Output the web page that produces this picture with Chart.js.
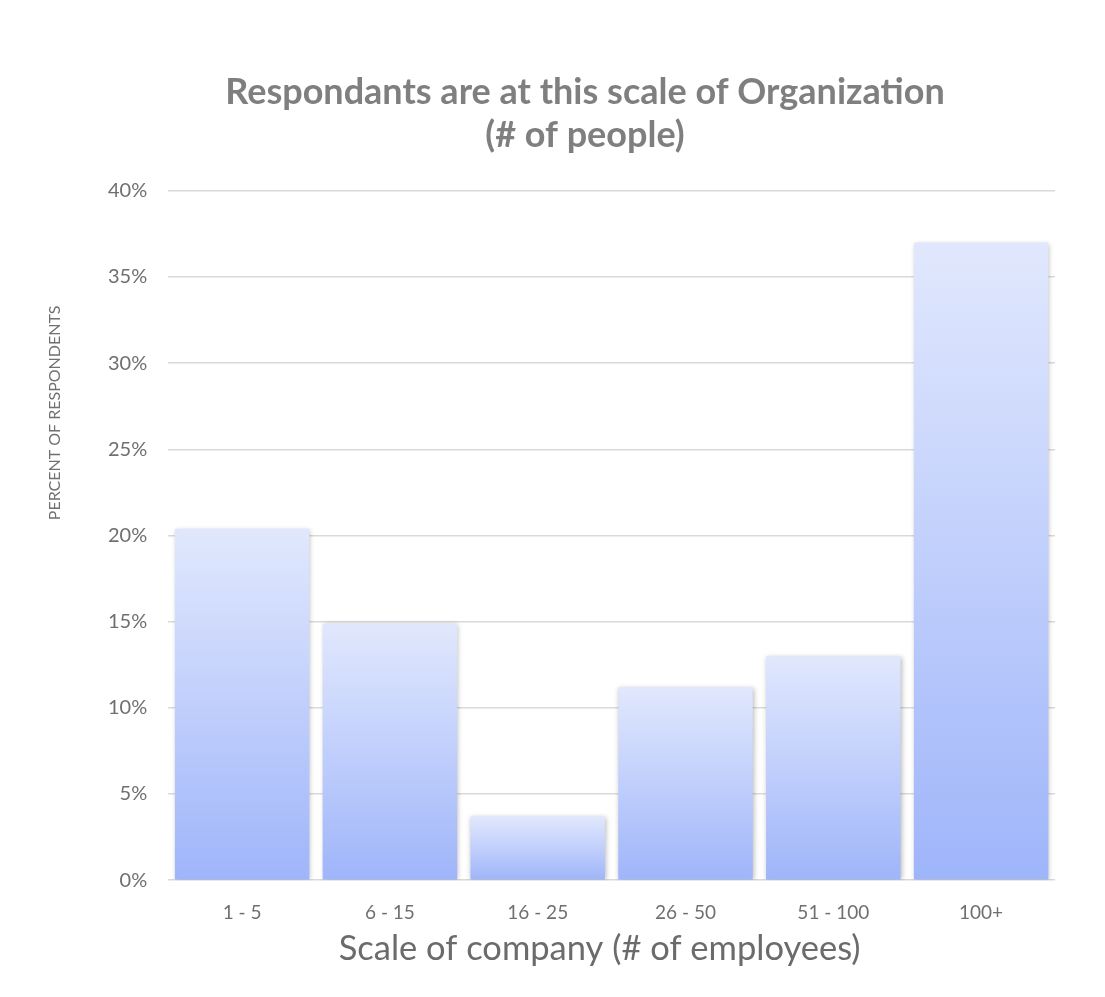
<!DOCTYPE html>
<html>
<head>
<meta charset="utf-8">
<script src="https://cdn.jsdelivr.net/npm/chart.js@4"></script>
<style>
html,body{margin:0;padding:0;background:#fff;}
</style>
</head>
<body>
<canvas id="chart" width="1105" height="997"></canvas>
<script>
// company size buckets and share of respondents (%)
const sizes = ["1 - 5","6 - 15","16 - 25","26 - 50","51 - 100","100+"];
const shares = [20.4, 14.9, 3.7, 11.2, 13.0, 37.0];
const yTicks = [0,5,10,15,20,25,30,35,40];

const xTitle = "Scale of company (# of employees)";
const yTitle = "PERCENT OF RESPONDENTS";

const FONT = "Lato, 'Open Sans', sans-serif";

/* soft shadow behind the bars */
const barShadow = {
  id:"barShadow",
  beforeDatasetsDraw(c){
    c.ctx.save();
    c.ctx.shadowColor="rgba(0,0,0,0.28)";
    c.ctx.shadowBlur=5;
    c.ctx.shadowOffsetX=1;
    c.ctx.shadowOffsetY=1;
  },
  afterDatasetsDraw(c){ c.ctx.restore(); }
};

/* nudge the main title a little right, over the plot */
const titleShift = {
  id:"titleShift",
  afterLayout(c){
    if(c.titleBlock){ c.titleBlock.left+=14; c.titleBlock.right+=14; }
  }
};

/* axis captions, placed by hand */
const axisCaptions = {
  id:"axisCaptions",
  afterDraw(c){
    const ctx=c.ctx, a=c.chartArea;
    ctx.save();
    ctx.textAlign="center";
    ctx.textBaseline="middle";
    ctx.fillStyle="#6b6b6b";
    ctx.font="34.5px "+FONT;
    ctx.fillText(xTitle,(a.left+a.right)/2-12,a.bottom+69);
    ctx.translate(55,a.top+222);
    ctx.rotate(-Math.PI/2);
    ctx.fillStyle="#707070";
    ctx.font="16px "+FONT;
    ctx.fillText(yTitle,0,0);
    ctx.restore();
  }
};

/* each bar gets its own light-to-dark fill */
function barFill(ctx){
  const c=ctx.chart, y=c.scales.y;
  if(!y || ctx.parsed===undefined) return "#c0cffb";
  const top=y.getPixelForValue(ctx.parsed.y), bot=y.getPixelForValue(0);
  if(!isFinite(top)||!isFinite(bot)||top===bot) return "#c0cffb";
  const g=c.ctx.createLinearGradient(0,top,0,bot);
  g.addColorStop(0,"#e1e8fd");
  g.addColorStop(1,"#9fb5fa");
  return g;
}

new Chart(document.getElementById("chart"),{
  type:"bar",
  data:{
    labels:sizes,
    datasets:[{data:shares,backgroundColor:barFill,borderWidth:0,
      barPercentage:0.91,categoryPercentage:1}]
  },
  plugins:[barShadow,titleShift,axisCaptions],
  options:{
    responsive:false,
    animation:false,
    layout:{padding:{left:87,right:50,top:0,bottom:60}},
    plugins:{
      legend:{display:false},
      tooltip:{enabled:false},
      title:{
        display:true,
        text:["Respondants are at this scale of Organization","(# of people)"],
        color:"#7f7f7f",
        font:{family:FONT,size:36,weight:"bold",lineHeight:1.22},
        padding:{top:70,bottom:33}
      }
    },
    scales:{
      x:{
        grid:{display:false},
        border:{display:false},
        ticks:{color:"#6f6f6f",font:{family:FONT,size:19},padding:13}
      },
      y:{
        min:0,max:40,
        afterBuildTicks(s){ s.ticks=yTicks.map(v=>({value:v})); },
        grid:{color:"#d9d9d9",lineWidth:1.5,drawTicks:false},
        border:{display:false},
        ticks:{color:"#6f6f6f",font:{family:FONT,size:20},padding:21,
          callback:v=>v+"%"}
      }
    }
  }
});
</script>
</body>
</html>
